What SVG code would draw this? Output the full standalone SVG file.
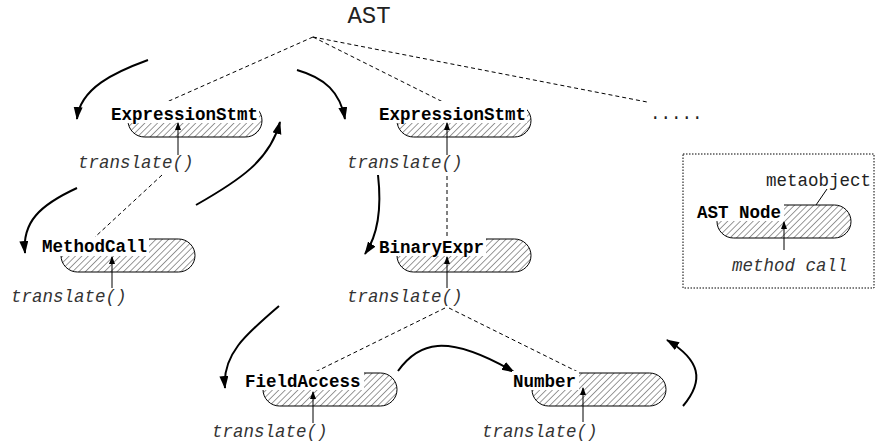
<svg xmlns="http://www.w3.org/2000/svg" width="876" height="444" viewBox="0 0 876 444">
<style>
.cap{fill:url(#hatch);stroke:#000;stroke-width:1}
.bg{fill:#fff}
.lbl{font-family:"Courier New","Liberation Mono",monospace;font-weight:bold;font-size:17.5px;fill:#000}
.tr{font-family:"Courier New","Liberation Mono",monospace;font-style:italic;font-size:17.5px;fill:#333}
.txt{font-family:"Courier New","Liberation Mono",monospace;font-size:17.5px;fill:#222}
.up{stroke:#000;stroke-width:1;fill:none;marker-end:url(#sa)}
.dash{stroke:#000;stroke-width:1;fill:none;stroke-dasharray:4 3}
.flow{stroke:#000;stroke-width:2;fill:none;marker-end:url(#ba)}
</style>
<defs>
<pattern id="hatch" width="4.5" height="4.5" patternUnits="userSpaceOnUse" patternTransform="rotate(45)">
<line x1="0" y1="0" x2="0" y2="4.5" stroke="#333" stroke-width="1"/>
</pattern>
<marker id="ba" markerUnits="userSpaceOnUse" markerWidth="14" markerHeight="10" refX="12" refY="4.5" orient="auto">
<path d="M0,0 L13,4.5 L0,9 z" fill="#000"/>
</marker>
<marker id="sa" markerUnits="userSpaceOnUse" markerWidth="10" markerHeight="8" refX="7" refY="3" orient="auto">
<path d="M0,0 L8,3 L0,6 z" fill="#000"/>
</marker>
</defs>
<rect width="876" height="444" fill="#fff"/>

<text x="369" y="23" text-anchor="middle" style="font-family:'Courier New','Liberation Mono',monospace;font-size:24px" fill="#222">AST</text>

<g id="connectors">
<path class="dash" d="M313,37 L160,105"/>
<path class="dash" d="M313,37 L445,103"/>
<path class="dash" d="M313,37 L647,102"/>
<path class="dash" d="M162,175 L95,237"/>
<path class="dash" d="M447,176 L447,236"/>
<path class="dash" d="M445,308 L315,372"/>
<path class="dash" d="M449,308 L580,373"/>
<path class="flow" d="M148,60 C115,72 80,88 77,119"/>
<path class="flow" d="M297,70 C325,78 340,92 345,119"/>
<path class="flow" d="M77,188 C40,205 22,222 25,253"/>
<path class="flow" d="M196,205 C240,180 270,160 280,122"/>
<path class="flow" d="M378,175 C382,210 378,235 365,254"/>
<path class="flow" d="M279,306 C245,335 222,355 225,388"/>
<path class="flow" d="M398,371 C418,343 445,332 514,372"/>
<path class="flow" d="M683,406 C705,380 700,360 667,340"/>
</g>

<text class="txt" x="650" y="119">.....</text>

<g id="n1">
<rect class="cap" x="128" y="104" width="134" height="33" rx="16.5"/>
<rect class="bg" x="110" y="101" width="149" height="22"/>
<text class="lbl" x="111" y="119.5">ExpressionStmt</text>
<path class="up" d="M178,155 L178,123"/>
<text class="tr" x="78" y="168">translate()</text>
</g>

<g id="n2">
<rect class="cap" x="397" y="104" width="134" height="33" rx="16.5"/>
<rect class="bg" x="378" y="101" width="149" height="22"/>
<text class="lbl" x="379" y="119.5">ExpressionStmt</text>
<path class="up" d="M447,155 L447,123"/>
<text class="tr" x="347" y="168">translate()</text>
</g>

<g id="n3">
<rect class="cap" x="61" y="239" width="134" height="33" rx="16.5"/>
<rect class="bg" x="41" y="237" width="108" height="19"/>
<text class="lbl" x="42" y="252">MethodCall</text>
<path class="up" d="M112,288 L112,257"/>
<text class="tr" x="11" y="302">translate()</text>
</g>

<g id="n4">
<rect class="cap" x="397" y="239" width="134" height="33" rx="16.5"/>
<rect class="bg" x="378" y="237" width="108" height="19"/>
<text class="lbl" x="379" y="252.5">BinaryExpr</text>
<path class="up" d="M447,288 L447,257"/>
<text class="tr" x="347" y="302">translate()</text>
</g>

<g id="n5">
<rect class="cap" x="263" y="373" width="134" height="33" rx="16.5"/>
<rect class="bg" x="244" y="371" width="120" height="19"/>
<text class="lbl" x="245" y="387">FieldAccess</text>
<path class="up" d="M313,423 L313,392"/>
<text class="tr" x="212" y="437">translate()</text>
</g>

<g id="n6">
<rect class="cap" x="532" y="373" width="134" height="33" rx="16.5"/>
<rect class="bg" x="512" y="371" width="67" height="19"/>
<text class="lbl" x="513" y="387">Number</text>
<path class="up" d="M583,422 L583,388"/>
<text class="tr" x="482" y="437">translate()</text>
</g>

<g id="legend">
<rect x="683" y="154" width="191" height="134" fill="none" stroke="#000" stroke-width="1" stroke-dasharray="1.5 1.5"/>
<rect class="cap" x="717" y="205" width="134" height="33" rx="16.5"/>
<rect class="bg" x="696" y="203" width="88" height="18"/>
<text class="lbl" x="697" y="218">AST Node</text>
<path class="up" d="M784,250 L784,222"/>
<text class="tr" x="732" y="271">method call</text>
<text class="txt" x="766" y="186">metaobject</text>
<path d="M827,189 L816,205" stroke="#000" stroke-width="1" fill="none"/>
</g>
</svg>
